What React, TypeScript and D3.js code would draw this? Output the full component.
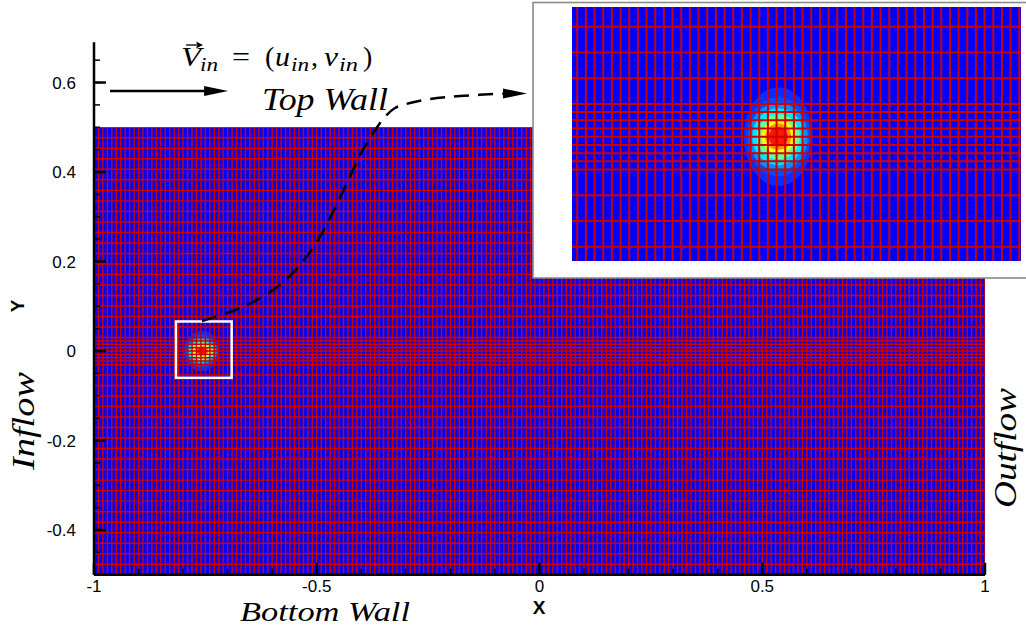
import React from 'react';
import * as d3 from 'd3';

const W = 1026;
const H = 626;

// ---------- axes ----------
const xMajorTicks = [-1, -0.5, 0, 0.5, 1];
const xTickLabels = ['-1', '-0.5', '0', '0.5', '1'];
const yMajorTicks = [-0.4, -0.2, 0, 0.2, 0.4, 0.6];
const yTickLabels = ['-0.4', '-0.2', '0', '0.2', '0.4', '0.6'];
const xMinorStep = 0.1;
const yMinorStep = 0.05;

// ---------- computational domain ----------
const domainX = [-1, 1];
const domainY = [-0.5, 0.5];
const axisYMax = 0.69;

// ---------- mesh ----------
const meshXStep = 0.01;
const meshFineBand = [-0.03, 0.03];
const meshFineStep = 0.0075;
const meshCoarseStep = 0.0235;

// ---------- vortex blob (contour levels, jet colours) ----------
const blobCenter = [-0.758, 0];
const blobLevelRx = [0.04, 0.037, 0.034, 0.03, 0.025, 0.0195, 0.015, 0.011];
const blobLevelRy = [0.045, 0.036, 0.031, 0.026, 0.0205, 0.0155, 0.012, 0.009];
const blobLevelColors = ['#0a2cff', '#0a48ff', '#0090ff', '#00e8ff', '#6cff8a', '#ffff00', '#ff9000', '#ff1600'];

// ---------- zoom box & inset ----------
const zoomBoxX = [-0.816, -0.691];
const zoomBoxY = [-0.06, 0.066];
const insetDomX = [-0.996, -0.478];
const insetDomY = [-0.1135, 0.1185];

// ---------- annotations ----------
const arrowY = 0.581;
const inflowArrowX = [-0.964, -0.699];
const connectorX = [-0.7576, -0.6947, -0.6386, -0.5825, -0.5376, -0.4972, -0.4635, -0.4321, -0.4029, -0.376, -0.349, -0.3244, -0.2907, -0.2458, -0.1785, -0.0774];
const connectorY = [0.067, 0.0872, 0.1117, 0.1475, 0.1922, 0.248, 0.3106, 0.3754, 0.438, 0.4827, 0.5207, 0.543, 0.5542, 0.5631, 0.5698, 0.5754];
const connectorTipX = -0.0281;

const RED = '#cc0000';
const BLUE = '#0000ff';
const SANS = "'Liberation Sans', Arial, Helvetica, sans-serif";
const SERIF = "'Liberation Serif', 'Times New Roman', 'DejaVu Serif', serif";

function meshXLines() {
  return d3.range(domainX[0], domainX[1] + 1e-9, meshXStep);
}
function meshYLines() {
  const fine = d3.range(meshFineBand[0], meshFineBand[1] + 1e-9, meshFineStep);
  const n = Math.round((domainY[1] - meshFineBand[1]) / meshCoarseStep);
  const up = d3.range(1, n + 1).map((k) => meshFineBand[1] + k * meshCoarseStep);
  const down = d3.range(1, n + 1).map((k) => meshFineBand[0] - k * meshCoarseStep);
  return [...down.reverse(), ...fine, ...up];
}

function MeshView({ sx, sy, clipId, lw }: { sx: any; sy: any; clipId: string; lw: number }) {
  const [x0, x1] = sx.range();
  const [y0, y1] = sy.range();
  const left = Math.min(x0, x1), right = Math.max(x0, x1);
  const top = Math.min(y0, y1), bottom = Math.max(y0, y1);
  const fxL = Math.max(left, sx(domainX[0])), fxR = Math.min(right, sx(domainX[1]));
  const fyT = Math.max(top, sy(domainY[1])), fyB = Math.min(bottom, sy(domainY[0]));
  const xs = meshXLines();
  const ys = meshYLines();
  return (
    <g>
      <defs>
        <clipPath id={clipId}>
          <rect x={fxL} y={fyT} width={fxR - fxL} height={fyB - fyT} />
        </clipPath>
      </defs>
      <g clipPath={`url(#${clipId})`}>
        <rect x={fxL} y={fyT} width={fxR - fxL} height={fyB - fyT} fill={BLUE} />
        {blobLevelColors.map((c, i) => (
          <ellipse
            key={'b' + i}
            cx={sx(blobCenter[0])}
            cy={sy(blobCenter[1])}
            rx={Math.abs(sx(blobCenter[0] + blobLevelRx[i]) - sx(blobCenter[0]))}
            ry={Math.abs(sy(blobCenter[1] + blobLevelRy[i]) - sy(blobCenter[1]))}
            fill={c}
          />
        ))}
        {xs.map((v, i) => (
          <line key={'vx' + i} x1={sx(v)} x2={sx(v)} y1={fyT} y2={fyB} stroke={RED} strokeWidth={lw} />
        ))}
        {ys.map((v, i) => (
          <line key={'hy' + i} x1={fxL} x2={fxR} y1={sy(v)} y2={sy(v)} stroke={RED} strokeWidth={lw} />
        ))}
      </g>
    </g>
  );
}

export default function App() {
  const x = d3.scaleLinear().domain(domainX).range([94, 985]);
  const y = d3.scaleLinear().domain([domainY[0], axisYMax]).range([574.75, 42.25]);

  const ix = d3.scaleLinear().domain(insetDomX).range([572, 1021]);
  const iy = d3.scaleLinear().domain(insetDomY).range([261, 7]);

  const xMinor = d3.range(domainX[0], domainX[1] + 1e-9, xMinorStep);
  const yMinor = d3.range(domainY[0], axisYMax - 0.01, yMinorStep);

  const connectorPts: [number, number][] = connectorX.map((v, i) => [x(v), y(connectorY[i])]);
  const connectorPath = d3.line().curve(d3.curveCatmullRom.alpha(0.5))(connectorPts) || '';

  const aY = y(arrowY);
  const inA = x(inflowArrowX[0]);
  const inB = x(inflowArrowX[1]);
  const tipX = x(connectorTipX);
  const lastPt = connectorPts[connectorPts.length - 1];

  return (
    <svg width={W} height={H} style={{ position: 'absolute', left: 0, top: 0, background: '#fff' }}>
      <rect x={0} y={0} width={W} height={H} fill="#fff" />

      {/* main mesh */}
      <MeshView sx={x} sy={y} clipId="mainClip" lw={1.45} />

      {/* zoom box */}
      <rect
        x={x(zoomBoxX[0])}
        y={y(zoomBoxY[1])}
        width={x(zoomBoxX[1]) - x(zoomBoxX[0])}
        height={y(zoomBoxY[0]) - y(zoomBoxY[1])}
        fill="none"
        stroke="#fff"
        strokeWidth={2.5}
      />

      {/* axes */}
      <line x1={x(domainX[0])} x2={x(domainX[1])} y1={y(domainY[0])} y2={y(domainY[0])} stroke="#000" strokeWidth={2.5} />
      <line x1={x(domainX[0])} x2={x(domainX[0])} y1={y(axisYMax)} y2={y(domainY[0])} stroke="#000" strokeWidth={2.5} />
      {xMinor.map((v, i) => (
        <line key={'xm' + i} x1={x(v)} x2={x(v)} y1={y(domainY[0])} y2={y(domainY[0]) - 6} stroke="#000" strokeWidth={1.5} />
      ))}
      {xMajorTicks.map((v, i) => (
        <g key={'xM' + i}>
          <line x1={x(v)} x2={x(v)} y1={y(domainY[0])} y2={y(domainY[0]) - 12} stroke="#000" strokeWidth={2.5} />
          <text x={x(v)} y={592} textAnchor="middle" fontFamily={SANS} fontSize={17} fill="#000">
            {xTickLabels[i]}
          </text>
        </g>
      ))}
      {yMinor.map((v, i) => (
        <line key={'ym' + i} x1={x(domainX[0])} x2={x(domainX[0]) + 6} y1={y(v)} y2={y(v)} stroke="#000" strokeWidth={1.5} />
      ))}
      {yMajorTicks.map((v, i) => (
        <g key={'yM' + i}>
          <line x1={x(domainX[0])} x2={x(domainX[0]) + 12} y1={y(v)} y2={y(v)} stroke="#000" strokeWidth={2.5} />
          <text x={76} y={y(v) + 6} textAnchor="end" fontFamily={SANS} fontSize={17} fill="#000">
            {yTickLabels[i]}
          </text>
        </g>
      ))}
      <text x={539} y={614} textAnchor="middle" fontFamily={SANS} fontWeight="bold" fontSize={19}>
        X
      </text>
      <text
        transform={`translate(24, ${306}) rotate(-90)`}
        textAnchor="middle"
        fontFamily={SANS}
        fontWeight="bold"
        fontSize={19}
      >
        Y
      </text>

      {/* inflow arrow */}
      <line x1={inA} x2={inB - 18} y1={aY} y2={aY} stroke="#000" strokeWidth={2.5} />
      <path d={`M${inB},${aY} L${inB - 24},${aY - 5} L${inB - 24},${aY + 5} Z`} fill="#000" />

      {/* V_in equation */}
      <g fontFamily={SERIF} fill="#000">
        <text x={181} y={66} fontFamily={SERIF} fontSize={28} fontStyle="italic" textLength={20} lengthAdjust="spacingAndGlyphs">V</text>
        <line x1={186} x2={199} y1={45} y2={45} stroke="#000" strokeWidth={1.3} />
        <path d="M203,45 L196,41.5 L197.5,45 L196,48.5 Z" fill="#000" />
        <text x={200} y={71} fontFamily={SERIF} fontSize={19} fontStyle="italic" textLength={18} lengthAdjust="spacingAndGlyphs">in</text>
        <text x={232} y={66} fontFamily={SERIF} fontSize={28} textLength={18} lengthAdjust="spacingAndGlyphs">=</text>
        <text x={265} y={66} fontFamily={SERIF} fontSize={28}>(</text>
        <text x={275} y={66} fontFamily={SERIF} fontSize={28} fontStyle="italic" textLength={15} lengthAdjust="spacingAndGlyphs">u</text>
        <text x={291} y={71} fontFamily={SERIF} fontSize={19} fontStyle="italic" textLength={18} lengthAdjust="spacingAndGlyphs">in</text>
        <text x={311} y={66} fontFamily={SERIF} fontSize={28}>,</text>
        <text x={324} y={66} fontFamily={SERIF} fontSize={28} fontStyle="italic" textLength={14} lengthAdjust="spacingAndGlyphs">v</text>
        <text x={339} y={71} fontFamily={SERIF} fontSize={19} fontStyle="italic" textLength={19} lengthAdjust="spacingAndGlyphs">in</text>
        <text x={363} y={66} fontFamily={SERIF} fontSize={28}>)</text>
      </g>

      {/* wall / boundary labels */}
      <text x={262} y={110} fontFamily={SERIF} fontStyle="italic" fontSize={32} textLength={126} lengthAdjust="spacingAndGlyphs">
        Top Wall
      </text>
      <text x={240} y={621} fontFamily={SERIF} fontStyle="italic" fontSize={28} textLength={170} lengthAdjust="spacingAndGlyphs">
        Bottom Wall
      </text>
      <text
        transform={`translate(34, 470) rotate(-90)`}
        fontFamily={SERIF}
        fontStyle="italic"
        fontSize={32}
        textLength={98}
        lengthAdjust="spacingAndGlyphs"
      >
        Inflow
      </text>
      <text
        transform={`translate(1016, 508) rotate(-90)`}
        fontFamily={SERIF}
        fontStyle="italic"
        fontSize={32}
        textLength={120}
        lengthAdjust="spacingAndGlyphs"
      >
        Outflow
      </text>

      {/* dashed connector */}
      <path d={connectorPath} fill="none" stroke="#000" strokeWidth={2.5} strokeDasharray="15 9" />
      <path
        d={`M${tipX},${lastPt[1]} L${tipX - 24},${lastPt[1] - 5} L${tipX - 24},${lastPt[1] + 5} Z`}
        fill="#000"
      />

      {/* inset */}
      <rect x={533} y={2.5} width={500} height={275.5} fill="#fff" stroke="#8a8a8a" strokeWidth={1.6} />
      <MeshView sx={ix} sy={iy} clipId="insetClip" lw={2} />
    </svg>
  );
}
